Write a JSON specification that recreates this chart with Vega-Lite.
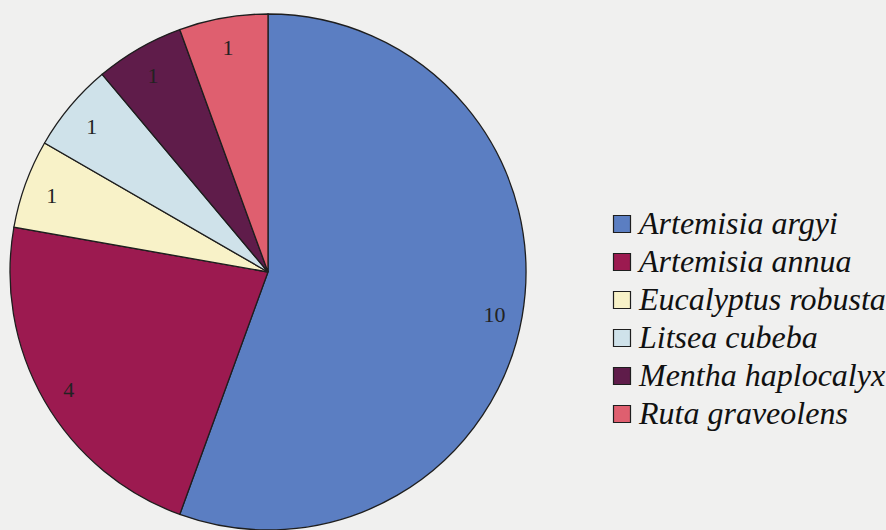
{
  "$schema": "https://vega.github.io/schema/vega-lite/v6.json",
  "width": 536,
  "height": 544,
  "autosize": {"type": "none"},
  "padding": {"left": 0, "top": 0, "right": 350, "bottom": 0},
  "background": "#f0f0ef",
  "view": {"stroke": null},
  "data": {
    "values": [
      {"species": "Artemisia argyi", "count": 10, "order": 1},
      {"species": "Artemisia annua", "count": 4, "order": 2},
      {"species": "Eucalyptus robusta", "count": 1, "order": 3},
      {"species": "Litsea cubeba", "count": 1, "order": 4},
      {"species": "Mentha haplocalyx", "count": 1, "order": 5},
      {"species": "Ruta graveolens", "count": 1, "order": 6}
    ]
  },
  "encoding": {
    "theta": {"field": "count", "type": "quantitative", "stack": true},
    "order": {"field": "order", "type": "quantitative"}
  },
  "layer": [
    {
      "mark": {"type": "arc", "radius": 258, "stroke": "#1e1e1e", "strokeWidth": 1.3},
      "encoding": {
        "color": {
          "field": "species",
          "type": "nominal",
          "sort": ["Artemisia argyi", "Artemisia annua", "Eucalyptus robusta", "Litsea cubeba", "Mentha haplocalyx", "Ruta graveolens"],
          "scale": {
            "domain": ["Artemisia argyi", "Artemisia annua", "Eucalyptus robusta", "Litsea cubeba", "Mentha haplocalyx", "Ruta graveolens"],
            "range": ["#5b7ec2", "#9c1a50", "#f8f2c8", "#cfe2ea", "#5f1c4a", "#df5f6f"]
          },
          "legend": {
            "orient": "none",
            "legendX": 606,
            "legendY": 208,
            "padding": 0,
            "title": null,
            "symbolType": "square",
            "symbolSize": 289,
            "symbolStrokeColor": "#1e1e1e",
            "symbolStrokeWidth": 1.2,
            "labelFont": "Liberation Serif, Times New Roman, DejaVu Serif, serif",
            "labelFontStyle": "italic",
            "labelFontSize": 32,
            "labelColor": "#111111",
            "labelOffset": 1,
            "labelLimit": 400,
            "rowPadding": 6
          }
        }
      }
    },
    {
      "mark": {"type": "text", "radius": 230, "dy": 3, "font": "Liberation Serif, Times New Roman, DejaVu Serif, serif", "fontSize": 22, "color": "#222222"},
      "encoding": {
        "text": {"field": "count", "type": "quantitative"}
      }
    }
  ]
}
